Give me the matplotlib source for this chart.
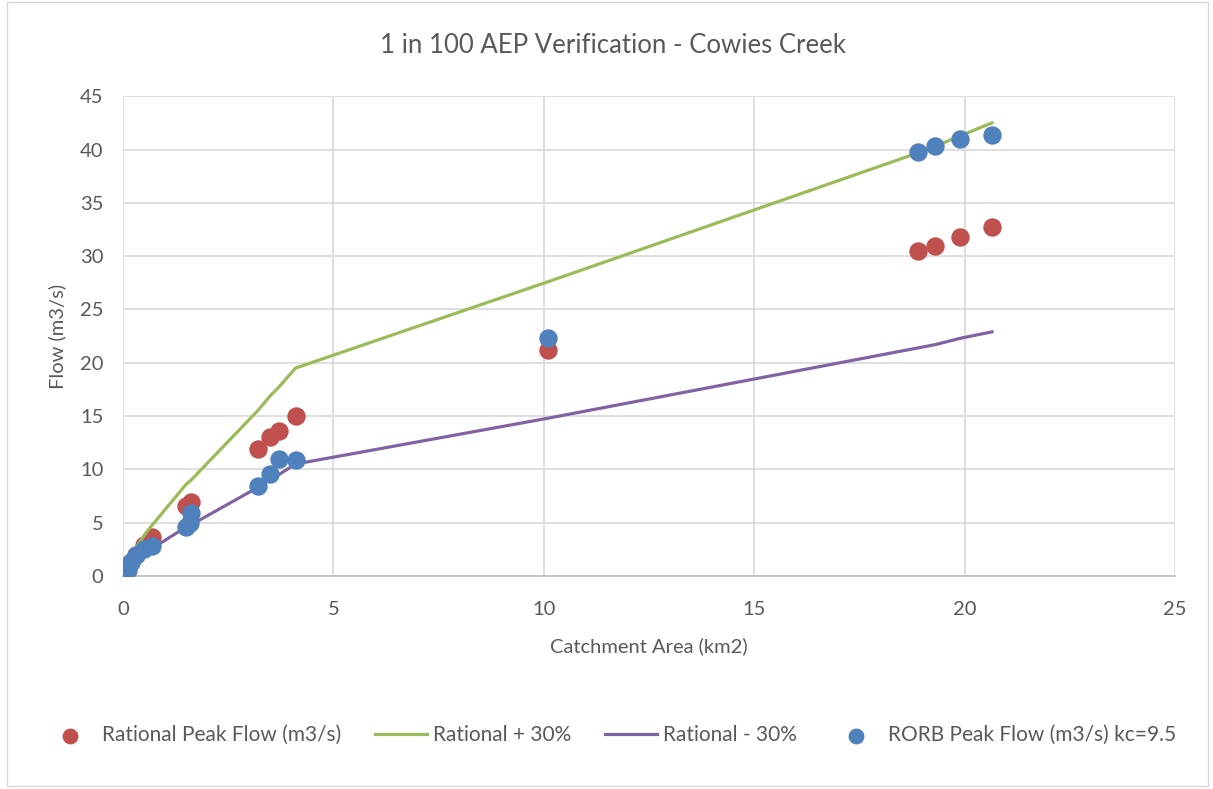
import matplotlib.pyplot as plt
from matplotlib.patches import Rectangle

plt.rcParams['font.family'] = ['Lato', 'DejaVu Sans']

# catchment areas (km2) for the rational method sites
area = [0.1, 0.2, 0.3, 0.5, 0.7, 1.5, 1.62, 3.2, 3.5, 3.7, 4.1, 10.1, 18.9, 19.3, 19.9, 20.65]
rational = [0.8, 1.3, 2.0, 2.9, 3.7, 6.6, 6.9, 11.9, 13.0, 13.6, 15.0, 21.2, 30.5, 31.0, 31.8, 32.7]
rational_plus = [1.0, 1.7, 2.6, 3.8, 4.8, 8.6, 9.0, 15.5, 16.9, 17.7, 19.5, 27.6, 39.7, 40.3, 41.3, 42.5]
rational_minus = [0.56, 0.9, 1.4, 2.0, 2.6, 4.6, 4.8, 8.3, 9.1, 9.5, 10.5, 14.8, 21.4, 21.7, 22.3, 22.9]

# RORB model results
rorb_area = [0.12, 0.2, 0.3, 0.5, 0.7, 1.5, 1.6, 1.62, 3.2, 3.5, 3.7, 4.1, 10.1, 18.9, 19.3, 19.9, 20.65]
rorb = [0.6, 1.3, 2.0, 2.5, 2.8, 4.6, 5.0, 5.9, 8.4, 9.6, 11.0, 10.9, 22.3, 39.8, 40.3, 41.0, 41.4]

xticks = [0, 5, 10, 15, 20, 25]
yticks = [0, 5, 10, 15, 20, 25, 30, 35, 40, 45]

grey = '#595959'

fig = plt.figure(figsize=(12.13, 7.89), dpi=100)
fig.patches.append(Rectangle((0.006, 0.004), 0.99, 0.994, transform=fig.transFigure,
                             fill=False, edgecolor='#d9d9d9', linewidth=1))
ax = fig.add_axes([0.1014, 0.270, 0.8673, 0.608])

ax.scatter(area, rational, s=150, color='#C0504D', zorder=3, label='Rational Peak Flow (m3/s)')
ax.plot(area, rational_plus, color='#9BBB59', lw=2.3, zorder=4, label='Rational + 30%')
ax.plot(area, rational_minus, color='#8064A2', lw=2.3, zorder=4, label='Rational - 30%')
ax.scatter(rorb_area, rorb, s=150, color='#4F81BD', zorder=5, label='RORB Peak Flow (m3/s) kc=9.5')

ax.set_xlim(0, 25)
ax.set_ylim(0, 45)
ax.set_xticks(xticks)
ax.set_yticks(yticks)
ax.grid(True, color='#d9d9d9', lw=1.2, zorder=0)
ax.set_axisbelow(True)
for s in ['top', 'right', 'left']:
    ax.spines[s].set_visible(False)
ax.spines['bottom'].set_color('#bfbfbf')
ax.spines['bottom'].set_linewidth(1.2)
ax.tick_params(length=0, labelsize=14.5, colors=grey)
ax.tick_params(axis='x', pad=18)
ax.tick_params(axis='y', pad=14)

ax.set_xlabel('Catchment Area (km2)', fontsize=14.5, color=grey, labelpad=14)
ax.set_ylabel('Flow (m3/s)', fontsize=14.5, color=grey, labelpad=10)
fig.text(0.505, 0.942, '1 in 100 AEP Verification - Cowies Creek', fontsize=18.5,
         color=grey, ha='center', va='center')

fig.legend(loc='center', bbox_to_anchor=(0.503, 0.068), ncol=4, frameon=False,
           fontsize=15, labelcolor=grey, handlelength=2.5, columnspacing=1.6,
           handletextpad=0.3, markerscale=0.85)

fig.savefig('out.png', dpi=100)
